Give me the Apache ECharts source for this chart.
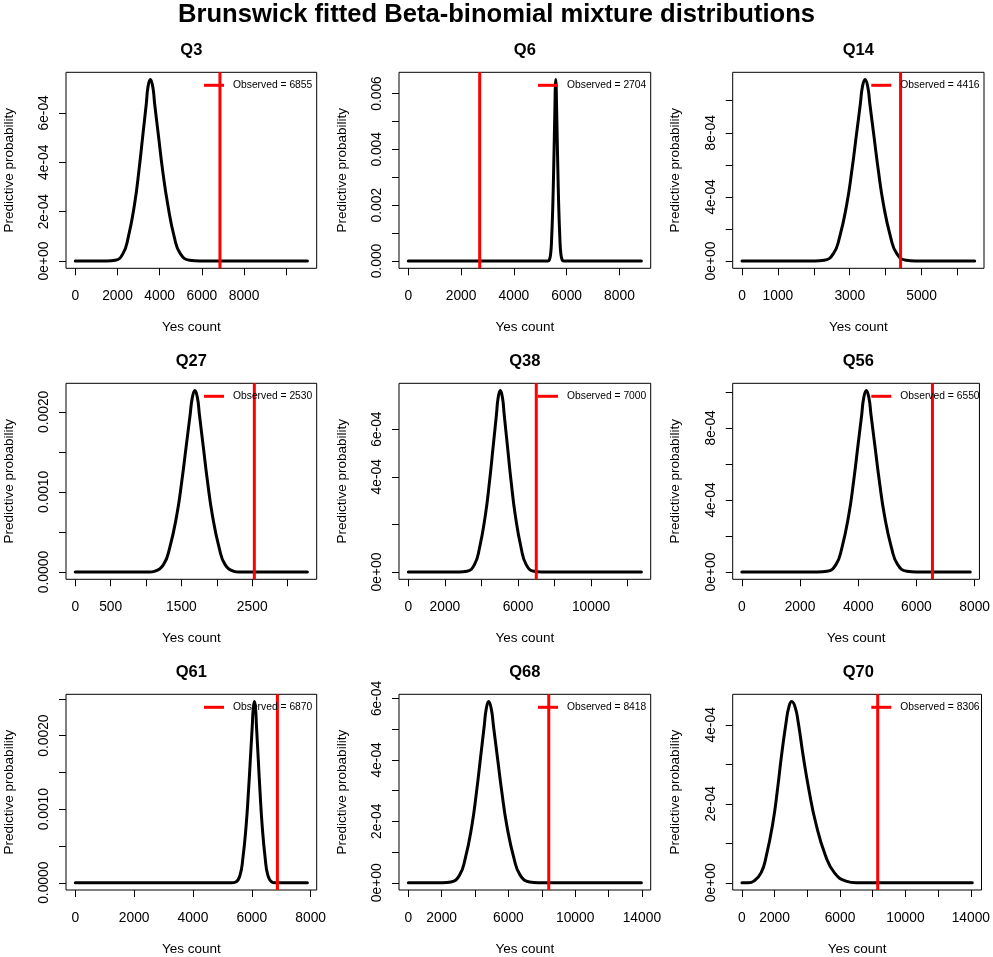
<!DOCTYPE html>
<html><head><meta charset="utf-8">
<script src="https://cdn.jsdelivr.net/npm/echarts@6/dist/echarts.min.js"></script>
<style>html,body{margin:0;padding:0;background:#fff}#c{width:993px;height:957px}</style>
</head><body><div id="c"></div>
<script>
const mainTitle = 'Brunswick fitted Beta-binomial mixture distributions';
const questions = ['Q3','Q6','Q14','Q27','Q38','Q56','Q61','Q68','Q70'];
const observed = [6855, 2704, 4416, 2530, 7000, 6550, 6870, 8418, 8306];

const q3X = [0, 1500, 1896, 2259, 2512, 2812, 3017, 3191, 3365, 3447, 3555, 3672, 3760, 3949, 4139, 4376, 4692, 4976, 5419, 5900, 11000];
const q3Y = [0, 0, 0.000003, 0.00003, 0.000097, 0.000232, 0.000367, 0.000502, 0.000637, 0.000706, 0.000735, 0.000706, 0.000637, 0.000502, 0.000367, 0.000232, 0.000097, 0.00003, 0.000003, 0, 0];
const q6X = [0, 5286, 5338, 5394, 5432, 5476, 5506, 5532, 5557, 5570, 5586, 5602, 5615, 5640, 5666, 5696, 5740, 5778, 5834, 5886, 8830];
const q6Y = [0, 0, 0.000026, 0.00027, 0.00086, 0.00205, 0.00325, 0.00444, 0.00564, 0.00624, 0.0065, 0.00624, 0.00564, 0.00444, 0.00325, 0.00205, 0.00086, 0.00027, 0.000026, 0, 0];
const q14X = [0, 2028, 2287, 2545, 2718, 2920, 3060, 3178, 3296, 3354, 3426, 3502, 3560, 3678, 3796, 3936, 4138, 4311, 4569, 4828, 6480];
const q14Y = [0, 0, 0.0000045, 0.000046, 0.000149, 0.000358, 0.000566, 0.000773, 0.000981, 0.001087, 0.001132, 0.001087, 0.000981, 0.000773, 0.000566, 0.000358, 0.000149, 0.000046, 0.0000045, 0, 0];
const q27X = [0, 1050, 1117, 1246, 1333, 1435, 1505, 1564, 1623, 1653, 1690, 1726, 1754, 1811, 1868, 1936, 2034, 2117, 2242, 2310, 3280];
const q27Y = [0, 0, 0.000009, 0.000093, 0.000299, 0.000716, 0.001133, 0.001548, 0.001965, 0.002175, 0.002266, 0.002175, 0.001965, 0.001548, 0.001133, 0.000716, 0.000299, 0.000093, 0.000009, 0, 0];
const q38X = [0, 2783, 3204, 3617, 3894, 4219, 4443, 4632, 4821, 4915, 5033, 5151, 5245, 5434, 5623, 5847, 6172, 6449, 6862, 7283, 12750];
const q38Y = [0, 0, 0.000003, 0.000031, 0.000101, 0.000241, 0.000381, 0.00052, 0.000661, 0.000732, 0.000762, 0.000732, 0.000661, 0.00052, 0.000381, 0.000241, 0.000101, 0.000031, 0.000003, 0, 0];
const q56X = [0, 2600, 2928, 3232, 3436, 3676, 3841, 3980, 4119, 4189, 4276, 4366, 4438, 4582, 4726, 4897, 5145, 5356, 5671, 6000, 7850];
const q56Y = [0, 0, 0.000004, 0.000041, 0.000133, 0.000318, 0.000504, 0.000688, 0.000873, 0.000967, 0.001007, 0.000967, 0.000873, 0.000688, 0.000504, 0.000318, 0.000133, 0.000041, 0.000004, 0, 0];
const q61X = [0, 5310, 5455, 5598, 5694, 5807, 5885, 5951, 6016, 6049, 6090, 6128, 6158, 6219, 6280, 6352, 6457, 6546, 6679, 6800, 7890];
const q61Y = [0, 0, 0.00001, 0.000101, 0.000325, 0.000778, 0.001232, 0.001682, 0.002135, 0.002364, 0.002463, 0.002364, 0.002135, 0.001682, 0.001232, 0.000778, 0.000325, 0.000101, 0.00001, 0, 0];
const q68X = [0, 2050, 2553, 3064, 3407, 3809, 4086, 4320, 4553, 4670, 4816, 4974, 5100, 5353, 5606, 5906, 6341, 6712, 7265, 7800, 13970];
const q68Y = [0, 0, 0.0000024, 0.000024, 0.000078, 0.000186, 0.000295, 0.000403, 0.000512, 0.000566, 0.00059, 0.000566, 0.000512, 0.000403, 0.000295, 0.000186, 0.000078, 0.000024, 0.0000024, 0, 0];
const q70X = [0, 400, 727, 1170, 1492, 1895, 2177, 2419, 2701, 2871, 3045, 3254, 3446, 3748, 4091, 4514, 5118, 5662, 6367, 7000, 14090];
const q70Y = [0, 0, 0.000004, 0.000025, 0.000068, 0.000152, 0.000237, 0.000321, 0.000406, 0.000445, 0.000459, 0.000445, 0.000406, 0.000321, 0.000237, 0.000152, 0.000068, 0.000025, 0.000004, 0, 0];

const xTicks = [
  [0, 2000, 4000, 6000, 8000, 10000],
  [0, 2000, 4000, 6000, 8000],
  [0, 1000, 2000, 3000, 4000, 5000, 6000],
  [0, 500, 1000, 1500, 2000, 2500, 3000],
  [0, 2000, 4000, 6000, 8000, 10000, 12000],
  [0, 2000, 4000, 6000, 8000],
  [0, 2000, 4000, 6000, 8000],
  [0, 2000, 4000, 6000, 8000, 10000, 12000, 14000],
  [0, 2000, 4000, 6000, 8000, 10000, 12000, 14000]
];
const xLabels = [
  [0, 2000, 4000, 6000, 8000],
  [0, 2000, 4000, 6000, 8000],
  [0, 1000, 3000, 5000],
  [0, 500, 1500, 2500],
  [0, 2000, 6000, 10000],
  [0, 2000, 4000, 6000, 8000],
  [0, 2000, 4000, 6000, 8000],
  [0, 2000, 6000, 10000, 14000],
  [0, 2000, 6000, 10000, 14000]
];
const yTicks = [
  [0, 0.0002, 0.0004, 0.0006],
  [0, 0.001, 0.002, 0.003, 0.004, 0.005, 0.006],
  [0, 0.0002, 0.0004, 0.0006, 0.0008, 0.001],
  [0, 0.0005, 0.001, 0.0015, 0.002],
  [0, 0.0002, 0.0004, 0.0006],
  [0, 0.0002, 0.0004, 0.0006, 0.0008, 0.001],
  [0, 0.0005, 0.001, 0.0015, 0.002, 0.0025],
  [0, 0.0001, 0.0002, 0.0003, 0.0004, 0.0005, 0.0006],
  [0, 0.0001, 0.0002, 0.0003, 0.0004]
];
const yLabelValues = [
  [0, 0.0002, 0.0004, 0.0006],
  [0, 0.002, 0.004, 0.006],
  [0, 0.0004, 0.0008],
  [0, 0.001, 0.002],
  [0, 0.0004, 0.0006],
  [0, 0.0004, 0.0008],
  [0, 0.001, 0.002],
  [0, 0.0002, 0.0004, 0.0006],
  [0, 0.0002, 0.0004]
];
const yLabelTexts = [
  ['0e+00', '2e-04', '4e-04', '6e-04'],
  ['0.000', '0.002', '0.004', '0.006'],
  ['0e+00', '4e-04', '8e-04'],
  ['0.0000', '0.0010', '0.0020'],
  ['0e+00', '4e-04', '6e-04'],
  ['0e+00', '4e-04', '8e-04'],
  ['0.0000', '0.0010', '0.0020'],
  ['0e+00', '2e-04', '4e-04', '6e-04'],
  ['0e+00', '2e-04', '4e-04']
];

const curvesX = [q3X, q6X, q14X, q27X, q38X, q56X, q61X, q68X, q70X];
const curvesY = [q3Y, q6Y, q14Y, q27Y, q38Y, q56Y, q61Y, q68Y, q70Y];

const FONT = '"Liberation Sans", Arial, Helvetica, sans-serif';
const colLeft = [66, 399, 732.7];
const colWidth = [250.7, 251.7, 251.3];
const rowTop = [72.3, 383.3, 694.3];
const plotH = 196;

const grids = [], xAxes = [], yAxes = [], series = [], titles = [], legends = [];
titles.push({
  text: mainTitle, left: 'center', top: 2, padding: 0,
  textStyle: { fontSize: 25.6, fontWeight: 'bold', fontFamily: FONT, color: '#000' }
});

questions.forEach((q, i) => {
  const r = Math.floor(i / 3), c = i % 3;
  const L = colLeft[c], T = rowTop[r], W = colWidth[c];
  const xs = curvesX[i], ys = curvesY[i];
  const xlo = Math.min(...xs), xhi = Math.max(...xs);
  const ylo = Math.min(...ys), yhi = Math.max(...ys);
  const xmin = xlo - 0.04 * (xhi - xlo), xmax = xhi + 0.04 * (xhi - xlo);
  const ymin = ylo - 0.04 * (yhi - ylo), ymax = yhi + 0.04 * (yhi - ylo);

  grids.push({ left: L, top: T, width: W, height: plotH, show: true, borderColor: '#000', borderWidth: 1, backgroundColor: 'rgba(0,0,0,0)' });
  titles.push({
    text: q, left: L + W / 2, top: T - 23.3 - 7.5, textAlign: 'center', padding: 0,
    textStyle: { fontSize: 16.5, fontWeight: 'bold', fontFamily: FONT, color: '#000' }
  });
  xAxes.push({
    type: 'value', gridIndex: i, min: xmin, max: xmax,
    splitLine: { show: false },
    axisLine: { show: false, onZero: false },
    axisTick: { show: true, inside: false, length: 7, customValues: xTicks[i], lineStyle: { color: '#000', width: 1 } },
    axisLabel: { show: true, customValues: xLabels[i], margin: 21, fontSize: 13.8, color: '#000', fontFamily: FONT,
      formatter: v => String(Math.round(v)) },
    name: 'Yes count', nameLocation: 'middle', nameGap: 52,
    nameTextStyle: { fontSize: 13.5, color: '#000', fontFamily: FONT }
  });
  const vals = yLabelValues[i], texts = yLabelTexts[i];
  yAxes.push({
    type: 'value', gridIndex: i, min: ymin, max: ymax,
    splitLine: { show: false },
    axisLine: { show: false, onZero: false },
    axisTick: { show: true, inside: false, length: 7, customValues: yTicks[i], lineStyle: { color: '#000', width: 1 } },
    axisLabel: { show: true, customValues: vals, rotate: 90, margin: 15, fontSize: 13.8, color: '#000', fontFamily: FONT,
      formatter: v => { for (let k = 0; k < vals.length; k++) { if (Math.abs(v - vals[k]) < 1e-10) return texts[k]; } return ''; } },
    name: 'Predictive probability', nameLocation: 'middle', nameGap: 50,
    nameTextStyle: { fontSize: 13.5, color: '#000', fontFamily: FONT }
  });
  series.push({
    type: 'line', xAxisIndex: i, yAxisIndex: i,
    data: xs.map((x, j) => [x, ys[j]]),
    showSymbol: false, symbol: 'none', smooth: 0.5,
    lineStyle: { color: '#000', width: 3, cap: 'round', join: 'round' },
    color: '#000', z: 2, silent: true, animation: false
  });
  const obsName = 'Observed = ' + observed[i];
  series.push({
    type: 'line', name: obsName, xAxisIndex: i, yAxisIndex: i,
    data: [[observed[i], ymin], [observed[i], ymax]],
    showSymbol: false, symbol: 'none',
    lineStyle: { color: '#ff0000', width: 3 },
    color: '#ff0000', z: 3, silent: true, animation: false
  });
  legends.push({
    data: [{ name: obsName, icon: 'rect', itemStyle: { color: '#ff0000' } }],
    left: L + W - 112.7, top: T + 8, orient: 'horizontal', padding: 0,
    itemWidth: 20, itemHeight: 3, selectedMode: false,
    textStyle: { fontSize: 10.3, color: '#000', fontFamily: FONT, padding: [0, 0, 0, 4] }
  });
});

const chart = echarts.init(document.getElementById('c'));
chart.setOption({
  animation: false,
  backgroundColor: '#fff',
  title: titles,
  grid: grids,
  xAxis: xAxes,
  yAxis: yAxes,
  legend: legends,
  series: series
});
</script>
</body></html>
